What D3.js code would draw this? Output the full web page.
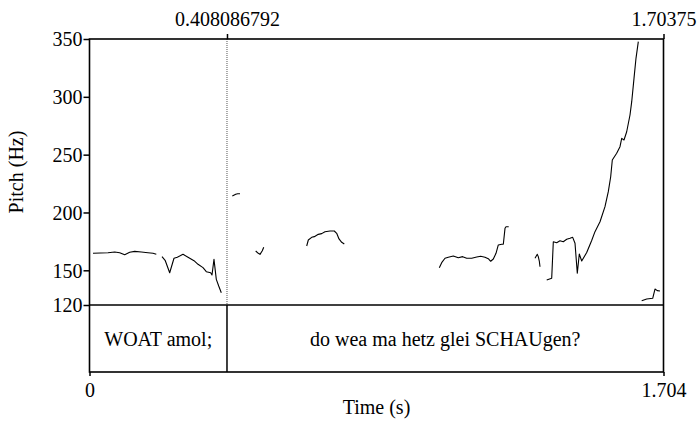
<!DOCTYPE html>
<html>
<head>
<meta charset="utf-8">
<script src="https://cdn.jsdelivr.net/npm/d3@7"></script>
<style>
  html, body { margin: 0; padding: 0; background: #fff; }
  svg text { font-family: "Liberation Serif", "Times New Roman", serif; fill: #000; }
</style>
</head>
<body>
<div id="chart"></div>
<script>
// pitch track, one array per voiced stretch: [time (s), pitch (Hz)]
var seg1 = [[0.0104,164.7],[0.0549,165.2],[0.0748,165.8],[0.0896,165.2],[0.1045,163.5],[0.1193,165.6],
  [0.1342,166.4],[0.1538,165.8],[0.1736,165.2],[0.1885,164.7],[0.1983,163.8]];
var seg2 = [[0.2152,161.8],[0.2250,158.3],[0.2380,147.9],[0.2508,160.4],[0.2606,161.3],[0.2775,163.8],
  [0.2924,161.3],[0.3102,158.3],[0.3221,155.2],[0.3369,152.3],[0.3467,148.8],[0.3597,147.9],
  [0.3636,145.9],[0.3695,159.5],[0.3764,142.2],[0.3835,136.4],[0.3912,130.6]];
var seg3 = [[0.4239,214.2],[0.4340,215.7],[0.4399,216.2],[0.4467,216.2]];
var seg4 = [[0.4933,166.7],[0.5010,164.7],[0.5061,163.8],[0.5129,166.9],[0.5171,169.9]];
var seg5 = [[0.6447,171.0],[0.6495,176.2],[0.6595,178.5],[0.6673,179.1],[0.6791,181.1],[0.6892,181.7],
  [0.6990,183.4],[0.7138,184.0],[0.7266,184.0],[0.7337,182.0],[0.7406,177.1],[0.7486,174.2],[0.7563,172.7]];
var seg6 = [[1.0383,152.3],[1.0454,156.6],[1.0552,160.4],[1.0650,161.3],[1.0798,162.4],[1.0947,160.9],
  [1.1077,161.8],[1.1196,160.4],[1.1345,160.4],[1.1493,161.5],[1.1612,162.1],[1.1739,161.3],
  [1.1837,160.0],[1.1908,157.8],[1.1986,159.8],[1.2066,164.7],[1.2134,171.9],[1.2235,172.5],
  [1.2283,172.5],[1.2333,186.3],[1.2363,187.7],[1.2443,187.7]];
var seg7 = [[1.3223,160.4],[1.3292,163.8],[1.3321,161.8],[1.3351,158.0],[1.3372,153.1]];
var seg8 = [[1.3571,141.6],[1.3719,143.1],[1.3767,174.7],[1.3867,173.9],[1.3965,175.6],[1.4063,174.7],
  [1.4164,176.8],[1.4262,177.7],[1.4342,178.5],[1.4411,173.4],[1.4479,147.4],[1.4538,164.1],
  [1.4610,158.0],[1.4758,165.4],[1.4906,175.8],[1.5004,183.4],[1.5153,192.0],[1.5301,205.0],
  [1.5399,218.0],[1.5470,230.9],[1.5518,245.4],[1.5648,251.2],[1.5746,256.9],[1.5797,264.1],
  [1.5865,262.7],[1.5945,269.8],[1.6043,284.3],[1.6094,295.8],[1.6162,316.0],[1.6221,333.3],[1.6290,347.7]];
var seg9 = [[1.6390,123.7],[1.6539,125.2],[1.6717,125.8],[1.6785,133.8],[1.6853,132.4],[1.6933,132.1]];
var segments = [seg1, seg2, seg3, seg4, seg5, seg6, seg7, seg8, seg9];

// text tier
var tierBounds = [0, 0.408086792, 1.70375];
var tierLabels = ["WOAT amol;", "do wea ma hetz glei SCHAUgen?"];

// axes
var yTicks = [120, 150, 200, 250, 300, 350];
var topTicks = [0.408086792, 1.70375];
var topTickLabels = ["0.408086792", "1.70375"];
var bottomTicks = [0, 1.70375];
var bottomTickLabels = ["0", "1.704"];

var W = 699, H = 428;
var mLeft = 89.5, mRight = 663.5, mTop = 39, pitchBottom = 305, mBottom = 372;
var fs = 20;
var serif = "'Liberation Serif', 'Times New Roman', serif";

var svg = d3.select("#chart").append("svg")
  .attr("width", W)
  .attr("height", H)
  .attr("font-family", serif);

var x = d3.scaleLinear().domain([0, 1.70375]).range([mLeft, mRight]);
var y = d3.scaleLinear().domain([120, 350]).range([pitchBottom, mTop]);

// boundary inside pitch area (dotted) and inside tier (solid)
tierBounds.slice(1, -1).forEach(function (b) {
  svg.append("line")
    .attr("x1", x(b)).attr("x2", x(b))
    .attr("y1", mTop).attr("y2", pitchBottom)
    .attr("stroke", "#555")
    .attr("stroke-width", 1)
    .attr("stroke-dasharray", "1,1");
  svg.append("line")
    .attr("x1", x(b)).attr("x2", x(b))
    .attr("y1", pitchBottom).attr("y2", mBottom)
    .attr("stroke", "#000")
    .attr("stroke-width", 1.5);
});

// pitch contour
var line = d3.line()
  .x(function (d) { return x(d[0]); })
  .y(function (d) { return y(d[1]); });

svg.append("g").selectAll("path")
  .data(segments)
  .enter()
  .append("path")
  .attr("d", line)
  .attr("fill", "none")
  .attr("stroke", "#000")
  .attr("stroke-width", 1.1)
  .attr("stroke-linejoin", "round");

// frame and tier separator
svg.append("rect")
  .attr("x", mLeft).attr("y", mTop)
  .attr("width", mRight - mLeft).attr("height", mBottom - mTop)
  .attr("fill", "none")
  .attr("stroke", "#000")
  .attr("stroke-width", 1.6);
svg.append("line")
  .attr("x1", mLeft).attr("x2", mRight)
  .attr("y1", pitchBottom).attr("y2", pitchBottom)
  .attr("stroke", "#000")
  .attr("stroke-width", 1.5);

// left axis
var yAxis = d3.axisLeft(y).tickValues(yTicks).tickSize(6).tickPadding(1).tickFormat(d3.format("d"));
var gy = svg.append("g").attr("transform", "translate(" + mLeft + ",0)").call(yAxis);
gy.select(".domain").remove();
gy.attr("font-family", serif);
gy.selectAll("line").attr("stroke-width", 1.5);
gy.selectAll("text").style("font-size", fs + "px").attr("dy", "0.34em");

// top axis (boundary times)
var xTop = d3.axisTop(x).tickValues(topTicks).tickSize(5).tickPadding(8)
  .tickFormat(function (d, i) { return topTickLabels[i]; });
var gt = svg.append("g").attr("transform", "translate(0," + mTop + ")").call(xTop);
gt.select(".domain").remove();
gt.attr("font-family", serif);
gt.selectAll("line").attr("stroke-width", 1.5);
gt.selectAll("text").style("font-size", fs + "px");

// bottom axis
var xBot = d3.axisBottom(x).tickValues(bottomTicks).tickSize(4).tickPadding(7)
  .tickFormat(function (d, i) { return bottomTickLabels[i]; });
var gb = svg.append("g").attr("transform", "translate(0," + mBottom + ")").call(xBot);
gb.select(".domain").remove();
gb.attr("font-family", serif);
gb.selectAll("line").attr("stroke-width", 1.5);
gb.selectAll("text").style("font-size", fs + "px");

// tier labels
svg.append("g").selectAll("text")
  .data(tierLabels)
  .enter()
  .append("text")
  .attr("x", function (d, i) { return (x(tierBounds[i]) + x(tierBounds[i + 1])) / 2; })
  .attr("y", (pitchBottom + mBottom) / 2)
  .attr("dy", "0.35em")
  .attr("text-anchor", "middle")
  .style("font-size", fs + "px")
  .text(function (d) { return d; });

// axis titles
svg.append("text")
  .attr("x", (mLeft + mRight) / 2)
  .attr("y", 414)
  .attr("text-anchor", "middle")
  .style("font-size", fs + "px")
  .text("Time (s)");
svg.append("text")
  .attr("transform", "translate(23," + (mTop + pitchBottom) / 2 + ") rotate(-90)")
  .attr("text-anchor", "middle")
  .style("font-size", fs + "px")
  .text("Pitch (Hz)");
</script>
</body>
</html>
